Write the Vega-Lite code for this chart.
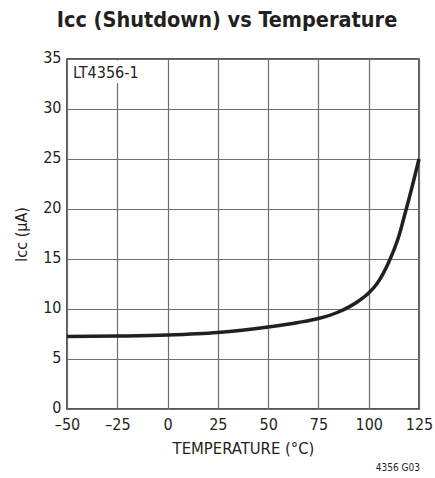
{
  "$schema": "https://vega.github.io/schema/vega-lite/v6.json",
  "width": 352,
  "height": 350,
  "autosize": "none",
  "padding": {"left": 67, "top": 59, "right": 16, "bottom": 69},
  "background": "white",
  "config": {
    "font": "DejaVu Sans Condensed",
    "view": {"stroke": "#231f20", "strokeWidth": 1.5}
  },
  "title": {
    "text": "Iᴄᴄ (Shutdown) vs Temperature",
    "font": "DejaVu Sans Condensed",
    "fontSize": 21.5,
    "fontWeight": "bold",
    "color": "#231f20",
    "anchor": "middle",
    "dx": -16,
    "offset": 18
  },
  "layer": [
    {
      "data": {
        "values": [
          {"temp": -50, "icc": 7.25},
          {"temp": -25, "icc": 7.3},
          {"temp": 0, "icc": 7.4},
          {"temp": 25, "icc": 7.65},
          {"temp": 50, "icc": 8.2},
          {"temp": 65, "icc": 8.65},
          {"temp": 75, "icc": 9.05},
          {"temp": 85, "icc": 9.7},
          {"temp": 95, "icc": 10.8},
          {"temp": 100, "icc": 11.6},
          {"temp": 104, "icc": 12.5},
          {"temp": 110, "icc": 14.7},
          {"temp": 115, "icc": 17.3},
          {"temp": 118, "icc": 19.5},
          {"temp": 120, "icc": 21.0},
          {"temp": 125, "icc": 25.0}
        ]
      },
      "mark": {"type": "line", "color": "#231f20", "strokeWidth": 3.5, "interpolate": "monotone"},
      "encoding": {
        "x": {
          "field": "temp", "type": "quantitative",
          "scale": {"domain": [-50, 125], "nice": false, "zero": false},
          "axis": {
            "values": [-50, -25, 0, 25, 50, 75, 100, 125],
            "title": "TEMPERATURE (°C)",
            "titleFont": "DejaVu Sans Condensed",
            "titleFontSize": 16.5,
            "titleFontWeight": "normal",
            "titleColor": "#231f20",
            "titlePadding": 8,
            "labelFont": "DejaVu Sans Condensed",
            "labelFontSize": 16,
            "labelColor": "#231f20",
            "labelPadding": 7,
            "labelExpr": "replace(datum.label, '−', '–')",
            "ticks": false,
            "domain": false,
            "grid": true,
            "gridColor": "#6d6e71",
            "gridWidth": 1.2,
            "labelFlush": false
          }
        },
        "y": {
          "field": "icc", "type": "quantitative",
          "scale": {"domain": [0, 35], "nice": false},
          "axis": {
            "values": [0, 5, 10, 15, 20, 25, 30, 35],
            "title": "Iᴄᴄ (µA)",
            "titleFont": "DejaVu Sans Condensed",
            "titleFontSize": 16,
            "titleFontWeight": "normal",
            "titleColor": "#231f20",
            "titlePadding": 13,
            "labelFont": "DejaVu Sans Condensed",
            "labelFontSize": 16,
            "labelColor": "#231f20",
            "labelPadding": 6,
            "labelOffset": -2,
            "ticks": false,
            "domain": false,
            "grid": true,
            "gridColor": "#6d6e71",
            "gridWidth": 1.2,
            "labelFlush": false
          }
        }
      }
    },
    {
      "data": {"values": [{"label": "LT4356-1"}]},
      "mark": {"type": "rect", "fill": "white", "stroke": null},
      "encoding": {
        "x": {"datum": -49.3},
        "x2": {"datum": -9},
        "y": {"datum": 34.85},
        "y2": {"datum": 32.6}
      }
    },
    {
      "data": {"values": [{"label": "LT4356-1"}]},
      "mark": {"type": "text", "font": "DejaVu Sans Condensed", "fontSize": 16, "fontWeight": "normal", "fill": "#231f20", "stroke": null, "align": "left", "baseline": "alphabetic", "dx": 6, "dy": 19},
      "encoding": {
        "x": {"datum": -50},
        "y": {"datum": 35},
        "text": {"field": "label"}
      }
    },
    {
      "data": {"values": [{"label": "4356 G03"}]},
      "mark": {"type": "text", "font": "DejaVu Sans Condensed", "fontSize": 10, "fontWeight": "normal", "fill": "#231f20", "stroke": null, "align": "right", "baseline": "alphabetic", "dx": 1, "dy": 62},
      "encoding": {
        "x": {"datum": 125},
        "y": {"datum": 0},
        "text": {"field": "label"}
      }
    }
  ]
}
